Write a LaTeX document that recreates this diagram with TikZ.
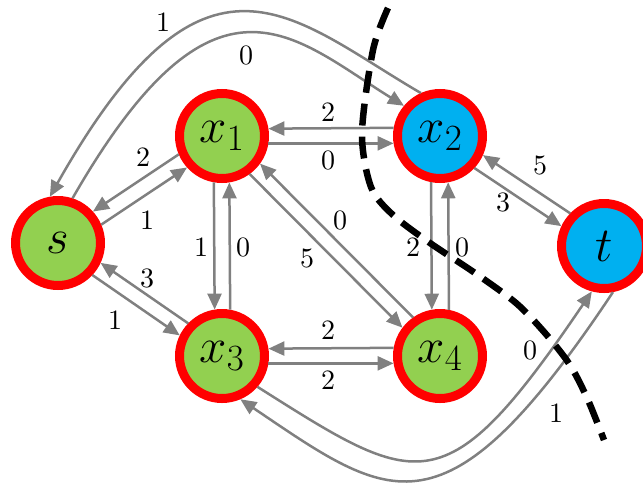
\documentclass[tikz,border=0pt]{standalone}
\usepackage{fix-cm}
\usetikzlibrary{arrows.meta}
\DeclareMathSizes{49}{49}{37}{28}
\definecolor{vgreen}{HTML}{92D050}
\definecolor{vblue}{HTML}{00B0F0}
\definecolor{egray}{HTML}{808080}
\tikzset{
  vnode/.style={circle, draw=red, line width=9pt, minimum size=85pt, inner sep=0pt,
                font=\fontsize{49}{52}\selectfont},
  gnode/.style={vnode, fill=vgreen},
  bnode/.style={vnode, fill=vblue},
  edge/.style={draw=egray, line width=2.5pt, -{Triangle[length=16pt,width=14pt]}},
  lbl/.style={font=\fontsize{10}{12}\selectfont, scale=2.8, inner sep=0pt, text=black},
  cutline/.style={draw=black, line width=6.5pt, dash pattern=on 22pt off 11pt}
}
\begin{document}
\begin{tikzpicture}[x=1pt,y=-1pt]
\useasboundingbox (0,0) rectangle (643,483);
% nodes
\node[gnode] (s)  at (58,243)  {$s$};
\node[gnode] (x1) at (222,136) {$x_1$};
\node[bnode] (x2) at (440,136) {$x_2$};
\node[gnode] (x3) at (222,356) {$x_3$};
\node[gnode] (x4) at (440,356) {$x_4$};
\node[bnode] (t)  at (604,246) {$t$};
% x1 - x2
\draw[edge] (x2.170.8) -- (x1.9.2) node[lbl] (l1) at (328,112) {2};
\draw[edge] (x1.-9.2) -- (x2.189.2) node[lbl] (l2) at (328,160) {0};
% x3 - x4
\draw[edge] (x4.170.8) -- (x3.9.2) node[lbl] (l3) at (328,330) {2};
\draw[edge] (x3.-9.2) -- (x4.189.2) node[lbl] (l4) at (328,380) {2};
% x1 - x3
\draw[edge] (x1.260.2) -- (x3.99.8) node[lbl] (l5) at (201,247) {1};
\draw[edge] (x3.80.2) -- (x1.279.8) node[lbl] (l6) at (243,247) {0};
% x2 - x4
\draw[edge] (x2.259.5) -- (x4.100.5) node[lbl] (l7) at (413,247) {2};
\draw[edge] (x4.79.5) -- (x2.280.5) node[lbl] (l8) at (462,247) {0};
% x1 - x4
\draw[edge] (x1.-54.5) -- (x4.143.9) node[lbl] (l9) at (307,258) {5};
\draw[edge] (x4.125.5) -- (x1.-36.1) node[lbl] (l10) at (340,220) {0};
% s - x1
\draw[edge] (x1.203.9) -- (s.42.3) node[lbl] (l11) at (143,157) {2};
\draw[edge] (s.23.9) -- (x1.222.3) node[lbl] (l12) at (147,220) {1};
% s - x3
\draw[edge] (x3.136.2) -- (s.-25.4) node[lbl] (l13) at (147,278) {3};
\draw[edge] (s.-43.8) -- (x3.154.6) node[lbl] (l14) at (115,320) {1};
% x2 - t
\draw[edge] (t.136.9) -- (x2.-24.7) node[lbl] (l15) at (540,165) {5};
\draw[edge] (x2.-43.1) -- (t.155.3) node[lbl] (l16) at (503,202) {3};
% long curves
\draw[edge] (x2.114) .. controls (291,17.5) and (206,-80) .. (s.100.5) node[lbl] (l17) at (163,22) {1};
\draw[edge] (s.72.7) .. controls (215,-50) and (293,37) .. (x2.140) node[lbl] (l18) at (246,55) {0};
\draw[edge] (x3.-41.6) .. controls (419,489) and (445,508) .. (t.255.7) node[lbl] (l19) at (530,350) {0};
\draw[edge] (t.-79.2) .. controls (444,546) and (391,501) .. (x3.-67.8) node[lbl] (l20) at (556,413) {1};
% cut
\draw[cutline] plot[smooth] coordinates {(388,8) (373,50) (362,133) (371,187) (393,215) (430,243) (475,273) (516,303) (545,333) (570,365) (588,400) (604,440)};
\end{tikzpicture}
\end{document}
